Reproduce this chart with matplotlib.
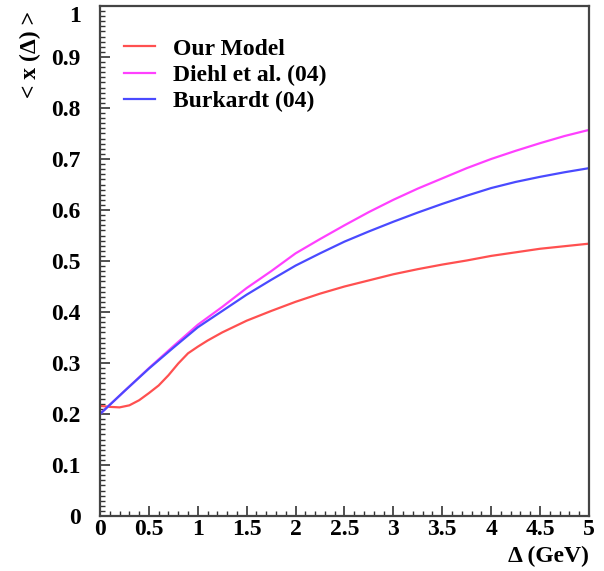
import matplotlib
matplotlib.use("Agg")
from matplotlib import pyplot as plt
from matplotlib.ticker import MultipleLocator
import matplotlib.transforms as mtransforms

delta = [0.0, 0.25, 0.5, 0.75, 1.0, 1.25, 1.5, 1.75, 2.0, 2.25, 2.5,
         2.75, 3.0, 3.25, 3.5, 3.75, 4.0, 4.25, 4.5, 4.75, 5.0]

diehl = [0.200, 0.245, 0.290, 0.333, 0.375, 0.410, 0.447, 0.480, 0.515, 0.543, 0.570,
         0.596, 0.620, 0.642, 0.662, 0.682, 0.700, 0.716, 0.731, 0.745, 0.757]

burkardt = [0.200, 0.245, 0.289, 0.330, 0.370, 0.402, 0.434, 0.463, 0.491, 0.515, 0.538,
            0.558, 0.577, 0.595, 0.612, 0.628, 0.643, 0.655, 0.665, 0.674, 0.682]

delta_model = [0.0, 0.1, 0.2, 0.3, 0.4, 0.5, 0.6, 0.7, 0.8, 0.9, 1.0, 1.1, 1.25, 1.5,
               1.75, 2.0, 2.25, 2.5, 2.75, 3.0, 3.25, 3.5, 3.75, 4.0, 4.25, 4.5, 4.75, 5.0]
our_model = [0.216, 0.214, 0.213, 0.217, 0.227, 0.241, 0.256, 0.276, 0.299, 0.319,
             0.332, 0.344, 0.360, 0.383, 0.402, 0.420, 0.436, 0.450, 0.462, 0.474,
             0.484, 0.493, 0.501, 0.510, 0.517, 0.524, 0.529, 0.534]

labels = ["Our Model", "Diehl et al. (04)", "Burkardt (04)"]
colors = ["#ff5050", "#ff40ff", "#4a4aff"]

FONT = "Liberation Serif"
FS = 17

fig = plt.figure(figsize=(6.04, 5.71), dpi=100)
ax = fig.add_axes([0.1656, 0.0963, 0.8094, 0.8932])

ax.plot(delta_model, our_model, color=colors[0], lw=1.6, label=labels[0])
ax.plot(delta, diehl, color=colors[1], lw=1.6, label=labels[1])
ax.plot(delta, burkardt, color=colors[2], lw=1.6, label=labels[2])

ax.set_xlim(0, 5)
ax.set_ylim(0, 1)

ax.xaxis.set_minor_locator(MultipleLocator(0.1))
ax.yaxis.set_minor_locator(MultipleLocator(0.01))
ax.set_xticks([0, 0.5, 1, 1.5, 2, 2.5, 3, 3.5, 4, 4.5, 5])
ax.set_xticklabels(["0", "0.5", "1", "1.5", "2", "2.5", "3", "3.5", "4", "4.5", "5"])
ax.set_yticks([0, 0.1, 0.2, 0.3, 0.4, 0.5, 0.6, 0.7, 0.8, 0.9, 1])
ax.set_yticklabels(["0", "0.1", "0.2", "0.3", "0.4", "0.5", "0.6", "0.7", "0.8", "0.9", "1"])

ax.tick_params(which="both", direction="in", top=False, right=False, color="#333333")
ax.tick_params(which="major", length=7, width=1.2)
ax.tick_params(which="minor", length=3.5, width=1.0)
ax.tick_params(axis="x", which="major", pad=2)
ax.tick_params(axis="y", which="major", pad=14)
for lab in ax.get_xticklabels() + ax.get_yticklabels():
    lab.set_fontfamily(FONT)
    lab.set_fontweight("bold")
    lab.set_fontsize(FS)

# nudge the top "1" down so it stays inside the figure, like the original
top_lab = ax.get_yticklabels()[-1]
top_lab.set_transform(top_lab.get_transform() +
                      mtransforms.ScaledTranslation(0, -6 / 72, fig.dpi_scale_trans))

for s in ax.spines.values():
    s.set_linewidth(1.6)
    s.set_color("#444444")

leg = ax.legend(loc="upper left", bbox_to_anchor=(0.05, 0.937), frameon=False,
                borderpad=0, borderaxespad=0,
                handlelength=1.3, handletextpad=0.75, labelspacing=0.2,
                prop={"family": FONT, "weight": "bold", "size": FS})

fig.text(0.05, 0.905, "< x (\u0394) >", rotation=90, ha="center", va="center",
         fontfamily=FONT, fontweight="bold", fontsize=FS)
fig.text(0.975, 0.026, "\u0394 (GeV)", ha="right", va="center",
         fontfamily=FONT, fontweight="bold", fontsize=FS)

fig.savefig("out.png", dpi=100)
